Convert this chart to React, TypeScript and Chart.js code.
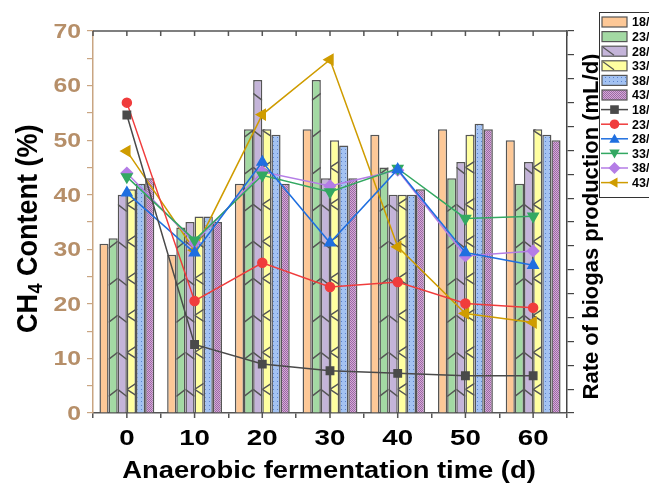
import React, { useEffect, useRef } from 'react';
import { Chart, registerables } from 'chart.js';

Chart.register(...registerables);

// ---------- data ----------
const categories = ['0', '10', '20', '30', '40', '50', '60'];
const seriesLabels = ['18/', '23/', '28/', '33/', '38/', '43/'];

// CH4 content (%) – bars, left axis
const ch4_18 = [31, 29, 42, 52, 51, 52, 50];
const ch4_23 = [32, 34, 52, 61, 45, 43, 42];
const ch4_28 = [40, 35, 61, 43, 40, 46, 46];
const ch4_33 = [41, 36, 52, 50, 40, 51, 52];
const ch4_38 = [42, 36, 51, 49, 40, 53, 51];
const ch4_43 = [43, 35, 42, 43, 41, 52, 50];

// Rate of biogas production – lines, right axis (unlabelled scale)
const rate_18 = [12.48, 2.87, 2.05, 1.77, 1.66, 1.56, 1.56];
const rate_23 = [13.0, 4.69, 6.29, 5.28, 5.49, 4.59, 4.41];
const rate_28 = [9.22, 6.71, 10.51, 7.13, 10.2, 6.72, 6.19];
const rate_33 = [9.89, 7.24, 9.96, 9.26, 10.24, 8.15, 8.24];
const rate_38 = [10.05, 7.13, 10.1, 9.51, 10.17, 6.58, 6.79];
const rate_43 = [10.97, 6.82, 12.5, 14.8, 6.96, 4.17, 3.79];

const leftMax = 70;
const leftLabelStep = 10;
const rightMax = 16;

const xTitle = 'Anaerobic fermentation time (d)';
const yLeftTitleMain = 'CH';
const yLeftTitleSub = '4';
const yLeftTitleRest = ' Content (%)';
const yRightTitle = 'Rate of biogas production (mL/d)';

// ---------- styles ----------
const FONT = '"Liberation Sans", Arial, sans-serif';
const BROWN = '#b68f69';
const BROWN_LINE = '#c9a582';
const EDGE = '#555555';

const barColors = ['#fdc897', '#a3d9a3', '#c4b4d9', '#ffffa0', '#a3c2f2', '#b78abd'];
const lineColors = ['#4a4a4a', '#f03c3c', '#1f6fe0', '#33a862', '#b47de6', '#cf9c00'];
const lineStyles = ['rect', 'circle', 'triangle', 'triangle', 'rectRot', 'triangle'];
const lineRot = [0, 0, 0, 180, 0, -90];
const lineRadius = [5.2, 4.5, 5.9, 5.9, 5.6, 5.9];

function dotPattern(bg: string, dot: string) {
  const c = document.createElement('canvas');
  c.width = 4; c.height = 4;
  const g = c.getContext('2d')!;
  g.fillStyle = bg; g.fillRect(0, 0, 4, 4);
  g.fillStyle = dot; g.fillRect(1, 1, 1, 1);
  return g.createPattern(c, 'repeat')!;
}
function checkPattern(a: string, b: string) {
  const c = document.createElement('canvas');
  c.width = 2; c.height = 2;
  const g = c.getContext('2d')!;
  g.fillStyle = a; g.fillRect(0, 0, 2, 2);
  g.fillStyle = b; g.fillRect(0, 0, 1, 1); g.fillRect(1, 1, 1, 1);
  return g.createPattern(c, 'repeat')!;
}

function drawMarker(ctx: CanvasRenderingContext2D, style: string, x: number, y: number, r: number, rot: number) {
  ctx.beginPath();
  if (style === 'rect') {
    ctx.rect(x - r * 0.72, y - r * 0.72, r * 1.44, r * 1.44);
  } else if (style === 'circle') {
    ctx.arc(x, y, r * 0.8, 0, Math.PI * 2);
  } else if (style === 'rectRot') {
    ctx.moveTo(x, y - r); ctx.lineTo(x + r, y); ctx.lineTo(x, y + r); ctx.lineTo(x - r, y); ctx.closePath();
  } else {
    const a = (rot * Math.PI) / 180;
    for (let k = 0; k < 3; k++) {
      const ang = a - Math.PI / 2 + (k * 2 * Math.PI) / 3;
      const px = x + r * Math.cos(ang);
      const py = y + r * Math.sin(ang) + (rot === 0 ? r * 0.15 : rot === 180 ? -r * 0.15 : 0);
      if (k === 0) ctx.moveTo(px, py); else ctx.lineTo(px, py);
    }
    ctx.closePath();
  }
  ctx.fill();
}

function stretchedText(ctx: CanvasRenderingContext2D, text: string, x: number, y: number, sx: number, align: CanvasTextAlign) {
  ctx.save();
  ctx.translate(x, y);
  ctx.scale(sx, 1);
  ctx.textAlign = align;
  ctx.textBaseline = 'alphabetic';
  ctx.fillText(text, 0, 0);
  ctx.restore();
}

const hatchPlugin = {
  id: 'hatch',
  afterDatasetDraw(chart: any, args: any) {
    const idx = args.index;
    if (idx < 1 || idx > 3) return;
    const ctx: CanvasRenderingContext2D = chart.ctx;
    const P = 37;
    ctx.save();
    ctx.strokeStyle = EDGE;
    ctx.lineWidth = 1.4;
    args.meta.data.forEach((el: any) => {
      const { x, y, base, width } = el.getProps(['x', 'y', 'base', 'width'], true);
      const l = x - width / 2, r = x + width / 2;
      ctx.save();
      ctx.beginPath();
      ctx.rect(l, y, width, base - y);
      ctx.clip();
      ctx.beginPath();
      for (let yA = base - 23; yA > y - 12; yA -= P) {
        if (idx === 1) {
          ctx.moveTo(l, yA + 7); ctx.lineTo(r, yA);
        } else if (idx === 2) {
          ctx.moveTo(l, yA); ctx.lineTo(r, yA + 7);
        } else {
          ctx.moveTo(r, yA - 6); ctx.lineTo(l, yA); ctx.lineTo(r, yA + 6);
        }
      }
      ctx.stroke();
      ctx.restore();
    });
    ctx.restore();
  },
};

const framePlugin = {
  id: 'frame',
  afterDraw(chart: any) {
    const ctx: CanvasRenderingContext2D = chart.ctx;
    const { left, right, top, bottom } = chart.chartArea;
    const xs = chart.scales.x;
    const ys = chart.scales.y;
    const n = categories.length;
    const centers: number[] = [];
    for (let i = 0; i < n; i++) centers.push(xs.getPixelForValue(i));
    const half = (centers[1] - centers[0]) / 2;
    const bounds: number[] = [];
    for (let i = 0; i <= n; i++) bounds.push(centers[0] - half + i * half * 2);

    ctx.save();
    ctx.strokeStyle = EDGE;
    ctx.lineWidth = 1.5;
    ctx.beginPath();
    ctx.moveTo(left, top); ctx.lineTo(right, top);
    [...centers, ...bounds].forEach((px) => {
      ctx.moveTo(px, top); ctx.lineTo(px, top + 5);
    });
    centers.forEach((px) => {
      ctx.moveTo(px, bottom); ctx.lineTo(px, bottom + 5);
    });
    ctx.stroke();
    ctx.restore();

    // tick labels
    ctx.save();
    ctx.fillStyle = '#000';
    ctx.font = `bold 22px ${FONT}`;
    categories.forEach((c, i) => stretchedText(ctx, c, centers[i], bottom + 32, 1.26, 'center'));
    ctx.fillStyle = BROWN;
    ctx.font = `bold 19.5px ${FONT}`;
    for (let v = 0; v <= leftMax; v += leftLabelStep) {
      stretchedText(ctx, String(v), left - 12, ys.getPixelForValue(v) + 6.8, 1.27, 'right');
    }
    // x title
    ctx.fillStyle = '#000';
    ctx.font = `bold 23px ${FONT}`;
    stretchedText(ctx, xTitle, (left + right) / 2 - 1, 478, 1.19, 'center');
    ctx.restore();

    // left title (with subscript)
    ctx.save();
    ctx.fillStyle = '#000';
    ctx.translate(37, (top + bottom) / 2 + 7);
    ctx.rotate(-Math.PI / 2);
    ctx.scale(1, 1.08);
    ctx.textBaseline = 'alphabetic';
    ctx.textAlign = 'left';
    const mainFont = `bold 27px ${FONT}`;
    const subFont = `bold 18px ${FONT}`;
    ctx.font = mainFont;
    const w1 = ctx.measureText(yLeftTitleMain).width;
    const w3 = ctx.measureText(yLeftTitleRest).width;
    ctx.font = subFont;
    const w2 = ctx.measureText(yLeftTitleSub).width;
    let sx = -(w1 + w2 + w3) / 2;
    ctx.font = mainFont;
    ctx.fillText(yLeftTitleMain, sx, 0);
    sx += w1;
    ctx.font = subFont;
    ctx.fillText(yLeftTitleSub, sx + 0.5, 5);
    sx += w2 + 0.5;
    ctx.font = mainFont;
    ctx.fillText(yLeftTitleRest, sx, 0);
    ctx.restore();

    // right axis title
    ctx.save();
    ctx.fillStyle = '#000';
    ctx.font = `bold 22px ${FONT}`;
    ctx.textAlign = 'center';
    ctx.textBaseline = 'alphabetic';
    ctx.translate(598, 226.5);
    ctx.rotate(-Math.PI / 2);
    ctx.fillText(yRightTitle, 0, 0);
    ctx.restore();

    // legend
    const lx = 599, ly = 12, lh = 14.6;
    ctx.save();
    ctx.fillStyle = '#fff';
    ctx.fillRect(lx, ly, 80, 185);
    ctx.strokeStyle = '#333';
    ctx.lineWidth = 1;
    ctx.strokeRect(lx + 0.5, ly + 0.5, 80, 185);
    ctx.font = `bold 12.5px ${FONT}`;
    ctx.textBaseline = 'middle';
    ctx.textAlign = 'left';
    const barDs = chart.data.datasets.slice(0, 6);
    barDs.forEach((ds: any, i: number) => {
      const cy = ly + 10 + i * lh;
      ctx.fillStyle = ds.backgroundColor;
      ctx.fillRect(602, cy - 5, 25, 10);
      ctx.strokeStyle = EDGE;
      ctx.lineWidth = 1.2;
      ctx.strokeRect(602, cy - 5, 25, 10);
      if (i === 2 || i === 3) {
        ctx.beginPath();
        ctx.moveTo(603, cy - 4); ctx.lineTo(614, cy + 4);
        ctx.stroke();
      }
      ctx.fillStyle = '#000';
      ctx.fillText(ds.label, 632, cy + 1);
    });
    const lineDs = chart.data.datasets.slice(6);
    lineDs.forEach((ds: any, i: number) => {
      const cy = ly + 10 + (i + 6) * lh;
      ctx.strokeStyle = ds.borderColor;
      ctx.lineWidth = 1.5;
      ctx.beginPath();
      ctx.moveTo(601, cy); ctx.lineTo(628, cy);
      ctx.stroke();
      ctx.fillStyle = ds.borderColor;
      drawMarker(ctx, lineStyles[i], 614.5, cy, 6, lineRot[i]);
      ctx.fillStyle = '#000';
      ctx.fillText(ds.label, 632, cy + 1);
    });
    ctx.restore();
  },
};

export default function App() {
  const ref = useRef<HTMLCanvasElement | null>(null);

  useEffect(() => {
    if (!ref.current) return;
    const fills: any[] = [
      barColors[0],
      barColors[1],
      barColors[2],
      barColors[3],
      dotPattern(barColors[4], '#5b82cc'),
      checkPattern('#d6a8d8', '#9a6aa3'),
    ];
    const barSeries = [ch4_18, ch4_23, ch4_28, ch4_33, ch4_38, ch4_43];
    const lineSeries = [rate_18, rate_23, rate_28, rate_33, rate_38, rate_43];

    const datasets: any[] = [
      ...barSeries.map((d, i) => ({
        type: 'bar',
        label: seriesLabels[i],
        data: d,
        backgroundColor: fills[i],
        borderColor: EDGE,
        borderWidth: 1.5,
        yAxisID: 'y',
        order: 2,
        categoryPercentage: 0.81,
        barPercentage: 1.0,
      })),
      ...lineSeries.map((d, i) => ({
        type: 'line',
        label: seriesLabels[i],
        data: d,
        borderColor: lineColors[i],
        backgroundColor: lineColors[i],
        pointBackgroundColor: lineColors[i],
        pointBorderColor: lineColors[i],
        borderWidth: 1.5,
        pointStyle: lineStyles[i],
        rotation: lineRot[i],
        pointRotation: lineRot[i],
        pointRadius: lineRadius[i],
        fill: false,
        tension: 0,
        yAxisID: 'y2',
        order: 1,
      })),
    ];

    const chart = new Chart(ref.current, {
      type: 'bar',
      data: { labels: categories, datasets },
      options: {
        responsive: false,
        maintainAspectRatio: false,
        animation: false,
        layout: { padding: { top: 31, left: 0, right: 0, bottom: 0 } },
        plugins: { legend: { display: false }, tooltip: { enabled: false } },
        scales: {
          x: {
            offset: true,
            grid: { display: true, drawOnChartArea: false, drawTicks: true, tickLength: 5, offset: true, color: EDGE, lineWidth: 1.5 },
            border: { display: true, color: EDGE, width: 1.5 },
            ticks: { callback: () => '', padding: 0 },
            afterFit: (s: any) => { s.height = 72; },
          },
          y: {
            position: 'left',
            min: 0,
            max: leftMax,
            ticks: { stepSize: 5, callback: () => '', padding: 0 },
            grid: { display: true, drawOnChartArea: false, drawTicks: true, tickLength: 6, color: BROWN_LINE, lineWidth: 1.2 },
            border: { display: true, color: BROWN_LINE, width: 1.5 },
            afterFit: (s: any) => { s.width = 93; },
          },
          y2: {
            position: 'right',
            min: 0,
            max: rightMax,
            ticks: { stepSize: 1, callback: () => '', padding: 0 },
            grid: { display: true, drawOnChartArea: false, drawTicks: true, tickLength: 7, color: '#444', lineWidth: 1.2 },
            border: { display: true, color: '#444', width: 1.5 },
            afterFit: (s: any) => { s.width = 82; },
          },
        },
      } as any,
      plugins: [hatchPlugin, framePlugin],
    });
    return () => chart.destroy();
  }, []);

  return (
    <div style={{ position: 'absolute', left: 0, top: 0, width: 649, height: 485, overflow: 'hidden', background: '#fff' }}>
      <canvas ref={ref} width={649} height={485} style={{ display: 'block', width: 649, height: 485 }} />
    </div>
  );
}
